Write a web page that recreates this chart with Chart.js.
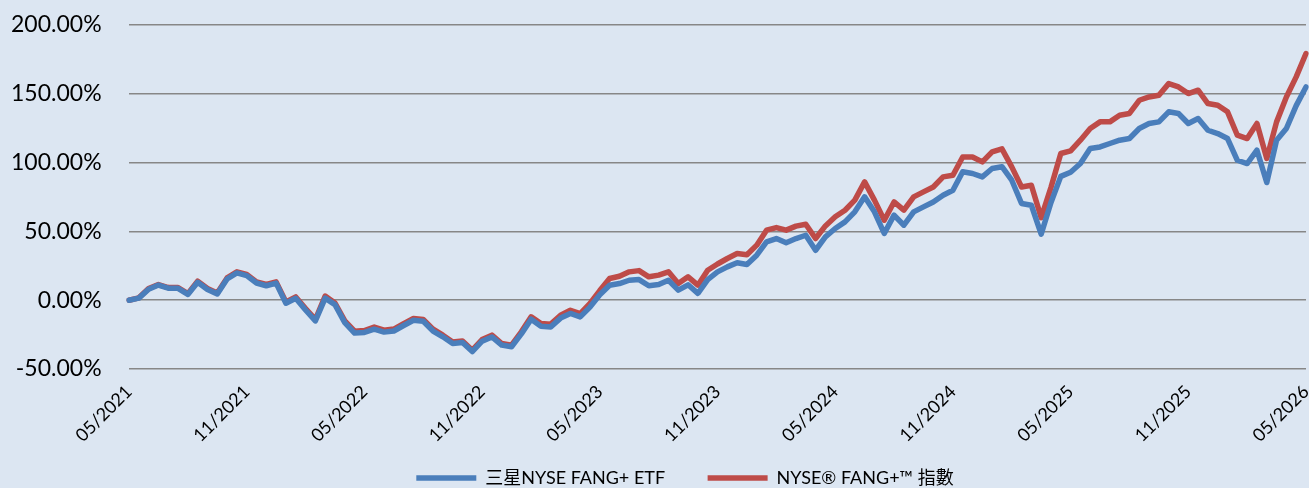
<!DOCTYPE html>
<html>
<head>
<meta charset="utf-8">
<script src="https://cdn.jsdelivr.net/npm/chart.js@4.4.1/dist/chart.umd.min.js"></script>
<style>
  html, body { margin: 0; padding: 0; background: #dce6f2; }
  #wrap { width: 1309px; height: 488px; position: relative; }
</style>
</head>
<body>
<div id="wrap"><canvas id="mycanvas"></canvas></div>
<script>
// tick labels every 6 months, data points every half month
var tickLabels = ['05/2021', '11/2021', '05/2022', '11/2022', '05/2023', '11/2023',
                  '05/2024', '11/2024', '05/2025', '11/2025', '05/2026'];
var pointsPerTick = 12;

var seriesNames = ['三星NYSE FANG+ ETF', 'NYSE® FANG+™ 指數'];

// cumulative return (%)
var etfValues = [
  0, 1.5, 8, 11, 8.7, 8.6, 4.2, 13, 7.8, 4.6, 15.4, 19.8,
  17.9, 12.5, 10.5, 12.4, -2.2, 1.4, -7.1, -15, 1.5, -3.2, -16.3, -23.9,
  -23.4, -21.1, -23.2, -22.4, -18.4, -14.6, -15.3, -22.4, -26.6, -31.4, -30.8, -37.3,
  -29.8, -26.7, -32.6, -33.8, -24.5, -13.8, -18.9, -19.4, -13, -9.6, -12.1, -5,
  4, 10.9, 12.1, 14.5, 15, 10.5, 11.4, 14.5, 7.3, 11.2, 5, 15,
  20.6, 24.2, 27.2, 25.9, 32.7, 42.4, 44.8, 41.8, 44.8, 47.2, 36.3, 46,
  52.1, 56.9, 64.2, 75.1, 64.2, 48.5, 61.8, 54.5, 64.2, 67.8, 71.4, 76.3,
  79.9, 93.3, 92.1, 89.6, 95.7, 97, 87.2, 70.3, 69, 48, 71, 90,
  93, 99.3, 110.2, 111.4, 113.9, 116.3, 117.5, 124.8, 128.4, 129.6, 136.9, 135.7,
  128.4, 132, 123.5, 121.1, 117.5, 101.7, 99.3, 109, 85.5, 116.3, 124.8, 141.4,
  155
];
var indexValues = [
  0, 1.7, 8.5, 11.4, 9.2, 9.2, 4.8, 13.8, 8.5, 5.3, 16.2, 20.6,
  18.7, 13.3, 11.4, 13.3, -1.2, 2.4, -6.1, -14, 3, -2, -15, -22.5,
  -22, -19.5, -21.8, -21, -17, -13.3, -14, -21, -25.4, -30.3, -29.6, -36.3,
  -28.6, -25.4, -31.5, -32.7, -23, -12.1, -17, -17.4, -10.9, -7.3, -9.7, -2.4,
  7, 15.8, 17.4, 20.6, 21.5, 17, 18.2, 20.6, 12.1, 17, 10.9, 21.8,
  26.3, 30.3, 33.9, 33, 40, 50.9, 52.8, 50.9, 53.8, 55.2, 44.8, 54,
  60.6, 65.4, 72.7, 86, 72.7, 58.1, 71.4, 65.4, 75.1, 78.7, 82.3, 89.6,
  90.8, 104.1, 104.1, 100.5, 107.8, 110, 96.9, 82.3, 83.5, 60, 82, 106.6,
  108.5, 116.3, 124.8, 129.6, 129.6, 134.4, 135.7, 145.3, 147.7, 148.9, 157.4, 155,
  150.2, 152.6, 142.9, 141.7, 136.9, 119.9, 117.5, 128.4, 103, 129.6, 147.7, 162.3,
  179.3
];

var labels = [];
for (var i = 0; i < indexValues.length; i++) {
  labels.push(i % pointsPerTick == 0 ? tickLabels[i / pointsPerTick] : '');
}

var fontFamily = "Lato, 'Noto Sans CJK TC', sans-serif";

var ctx = document.getElementById('mycanvas').getContext('2d');
var myChart = new Chart(ctx, {
  type: 'line',
  data: {
    labels: labels,
    datasets: [{
      label: seriesNames[0],
      data: etfValues,
      borderColor: '#4a7ebb',
      backgroundColor: '#4a7ebb',
      borderWidth: 5.5,
      borderCapStyle: 'round',
      borderJoinStyle: 'round',
      pointRadius: 0,
      tension: 0
    }, {
      label: seriesNames[1],
      data: indexValues,
      borderColor: '#be4b48',
      backgroundColor: '#be4b48',
      borderWidth: 5.5,
      borderCapStyle: 'round',
      borderJoinStyle: 'round',
      pointRadius: 0,
      tension: 0
    }]
  },
  options: {
    responsive: true,
    maintainAspectRatio: false,
    animation: false,
    // left padding keeps the bottom legend centred like the original
    layout: { padding: { top: 25, right: 3, left: 64, bottom: 0 } },
    plugins: {
      tooltip: { enabled: false },
      legend: {
        position: 'bottom',
        maxHeight: 39,
        labels: {
          usePointStyle: true,
          pointStyle: 'line',
          pointStyleWidth: 60,
          boxWidth: 48,
          padding: 20,
          color: '#000',
          font: { family: fontFamily, size: 18 },
          generateLabels: function (chart) {
            var items = Chart.defaults.plugins.legend.labels.generateLabels(chart);
            items[0].text = items[0].text + '\u2003\u2002';
            return items;
          }
        }
      }
    },
    scales: {
      x: {
        type: 'category',
        offset: false,
        grid: { display: false },
        border: { display: false },
        afterFit: function (scale) { scale.height = 80; scale.paddingRight = 0; },
        ticks: {
          autoSkip: false,
          minRotation: 45,
          maxRotation: 45,
          padding: 4,
          color: '#000',
          font: { family: fontFamily, size: 18 },
          callback: function (val, idx) { return labels[idx]; }
        }
      },
      y: {
        min: -50,
        max: 200,
        afterFit: function (scale) { scale.width = 65; },
        grid: { color: '#878787', lineWidth: 1.5, drawTicks: false },
        border: { display: false },
        ticks: {
          stepSize: 50,
          mirror: true,
          crossAlign: 'far',
          padding: -118,
          color: '#000',
          font: { family: fontFamily, size: 23 },
          callback: function (v) { return v.toFixed(2) + '%'; }
        }
      }
    }
  }
});
</script>
</body>
</html>
